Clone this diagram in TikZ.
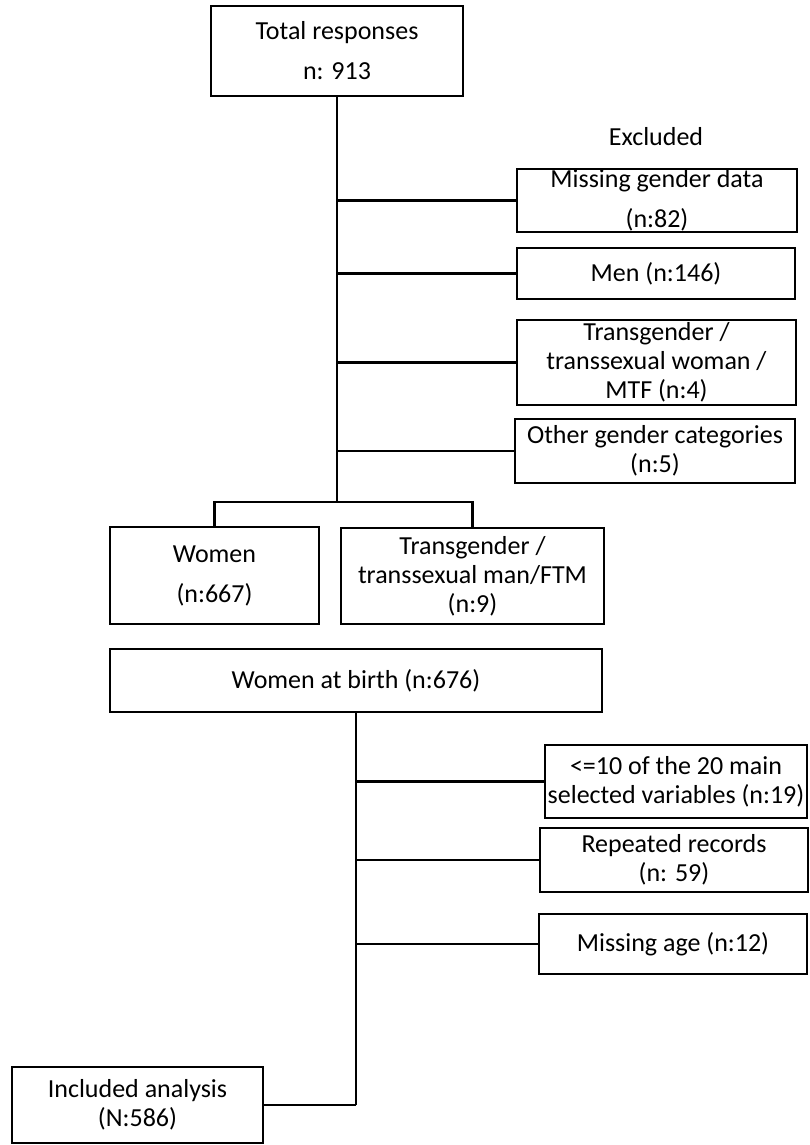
\documentclass[tikz,border=0pt]{standalone}
\usepackage{fontspec}
\setmainfont{Carlito}
\begin{document}
\begin{tikzpicture}[x=1pt,y=-1pt,
  box/.style={draw=black, line width=2.8pt, inner sep=0pt, align=center,
    font=\fontsize{26pt}{29pt}\selectfont},
  wide/.style={font=\fontsize{26pt}{40pt}\selectfont},
  conn/.style={draw=black, line width=2.8pt}]
\useasboundingbox (0,0) rectangle (809,1145);
% top part
\node[box, wide, minimum width=252pt, minimum height=90pt] (total) at (337,51) {Total responses\\n: 913};
\node[font=\fontsize{26pt}{29pt}\selectfont] (excl) at (656,137) {Excluded};
\node[box, wide, minimum width=280pt, minimum height=63pt] (miss) at (657,200.5) {Missing gender data\\(n:82)};
\node[box, minimum width=278pt, minimum height=51pt] (men) at (656,273.5) {Men (n:146)};
\node[box, minimum width=279pt, minimum height=85pt] (transw) at (656.5,362.5) {Transgender /\\transsexual woman /\\MTF (n:4)};
\node[box, minimum width=280pt, minimum height=64pt] (other) at (655,451) {Other gender categories\\(n:5)};
\node[box, wide, minimum width=209pt, minimum height=97pt] (women) at (214.5,575.5) {Women\\(n:667)};
\node[box, minimum width=263pt, minimum height=96pt] (transm) at (472.5,576) {Transgender /\\transsexual man/FTM\\(n:9)};
\node[box, minimum width=492pt, minimum height=63pt] (wab) at (356,680.5) {Women at birth (n:676)};
% bottom part
\node[box, minimum width=262pt, minimum height=73pt] (lt10) at (676,781.5) {<=10 of the 20 main\\selected variables (n:19)};
\node[box, minimum width=268pt, minimum height=64pt] (rep) at (674,860) {Repeated records\\(n: 59)};
\node[box, minimum width=268pt, minimum height=60pt] (age) at (673,944) {Missing age (n:12)};
\node[box, minimum width=251pt, minimum height=76pt] (incl) at (137.5,1105) {Included analysis\\(N:586)};
% junction coordinates
\coordinate (j1) at (337,200.5);
\coordinate (j2) at (337,273.5);
\coordinate (j3) at (337,362.5);
\coordinate (j4) at (337,451);
\coordinate (jb) at (337,502);
\coordinate (k1) at (356,781.5);
\coordinate (k2) at (356,860);
\coordinate (k3) at (356,944);
\coordinate (k4) at (356,1105);
% connectors
\draw[conn] (total.south) -- (jb);
\draw[conn] (j1) -- (miss.west);
\draw[conn] (j2) -- (men.west);
\draw[conn] (j3) -- (transw.west);
\draw[conn] (j4) -- (other.west);
\draw[conn] (women.north) |- (jb) -| (transm.north);
\draw[conn] (wab.south) -- (k4);
\draw[conn] (k1) -- (lt10.west);
\draw[conn] (k2) -- (rep.west);
\draw[conn] (k3) -- (age.west);
\draw[conn] (k4) -- (incl.east);
\end{tikzpicture}
\end{document}
